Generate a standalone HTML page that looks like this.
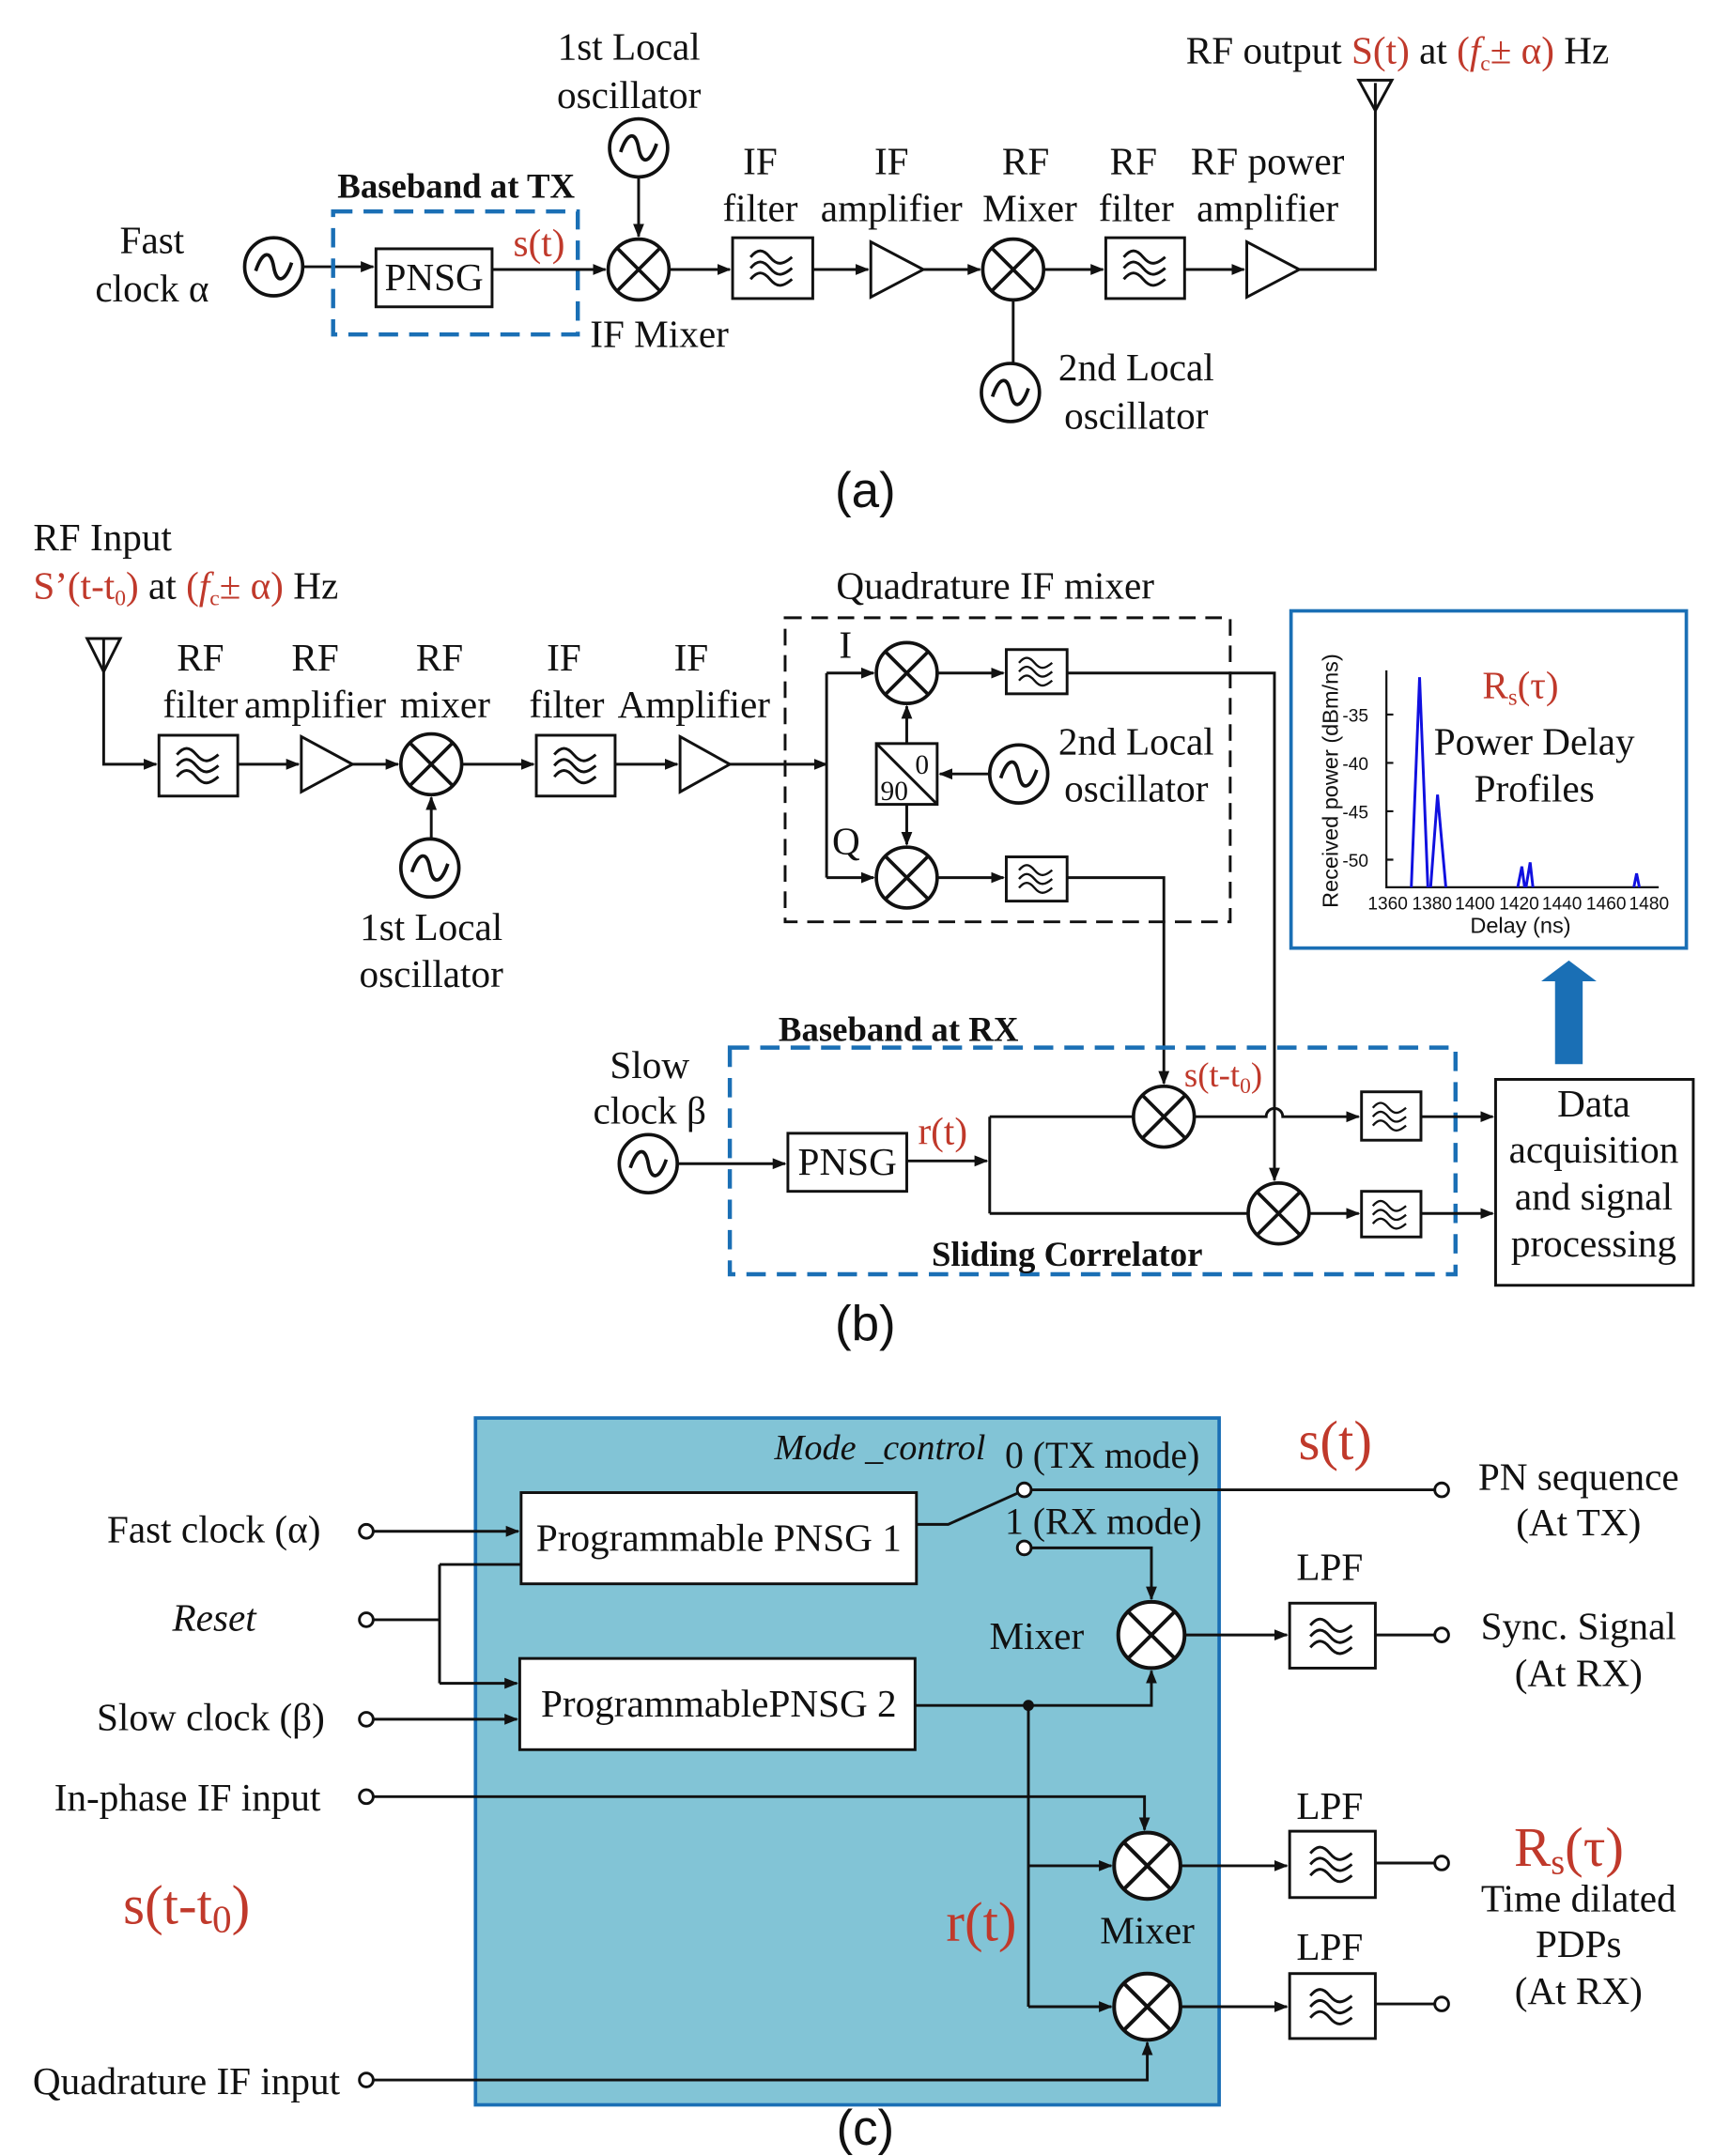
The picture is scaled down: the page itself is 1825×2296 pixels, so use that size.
<!DOCTYPE html>
<html><head><meta charset="utf-8"><style>html,body{margin:0;padding:0;background:#fff}svg{display:block;font-family:"Liberation Serif",serif;font-size:28px}
text{fill:#111}
.s{font-family:"Liberation Sans",sans-serif}
text.r,tspan.r{fill:#c0392b}.b{font-weight:bold}
</style></head><body>
<svg width="1825" height="2296" viewBox="0 0 1240 1560" xmlns="http://www.w3.org/2000/svg">
<defs>
<marker id="a" markerWidth="10" markerHeight="10" refX="9" refY="5" orient="auto" markerUnits="userSpaceOnUse"><path d="M0,1 L10,5 L0,9 z" fill="#111"/></marker>
<g id="mx"><circle r="22" fill="#fff" stroke="#111" stroke-width="2.5"/><path d="M-15.5,-15.5 L15.5,15.5 M15.5,-15.5 L-15.5,15.5" stroke="#111" stroke-width="2.5"/></g>
<g id="os"><circle r="21" fill="#fff" stroke="#111" stroke-width="2.5"/><path d="M-13,3 C-8,-12 -2,-12 0,0 C2,12 8,12 13,-3" fill="none" stroke="#111" stroke-width="2.5"/></g>
<g id="fw"><path d="M-16,-8 c5,-6 9,-6 14,0 c5,6 9,6 16,0 M-16,0 c5,-6 9,-6 14,0 c5,6 9,6 16,0 M-16,8 c5,-6 9,-6 14,0 c5,6 9,6 16,0" fill="none" stroke="#111" stroke-width="2"/></g>
</defs>
<g stroke="#111" stroke-width="2" fill="none">
<!-- (a) -->
<line x1="220" y1="193" x2="270" y2="193" marker-end="url(#a)"/>
<rect x="272" y="180" width="84" height="42" fill="#fff"/>
<line x1="356" y1="195" x2="438" y2="195" marker-end="url(#a)"/>
<line x1="462" y1="127" x2="462" y2="171" marker-end="url(#a)"/>
<line x1="484" y1="195" x2="528" y2="195" marker-end="url(#a)"/>
<rect x="530" y="172" width="58" height="44"/>
<line x1="588" y1="195" x2="628" y2="195" marker-end="url(#a)"/>
<path d="M630,175 L668,195 L630,215 z"/>
<line x1="668" y1="195" x2="709" y2="195" marker-end="url(#a)"/>
<line x1="733" y1="217" x2="733" y2="262"/>
<line x1="755" y1="195" x2="798" y2="195" marker-end="url(#a)"/>
<rect x="800" y="172" width="57" height="44"/>
<line x1="857" y1="195" x2="900" y2="195" marker-end="url(#a)"/>
<path d="M902,175 L940,195 L902,215 z"/>
<path d="M940,195 L995,195 L995,60"/>
<path d="M983,58 L1007,58 L995,80 z"/>
<rect x="241" y="153" width="177" height="89" stroke="#1a6fb5" stroke-width="3" stroke-dasharray="14,8"/>
<!-- (b) -->
<path d="M63,462 L87,462 L75,486 z"/>
<path d="M75,462 L75,553 L113,553" marker-end="url(#a)"/>
<rect x="115" y="532" width="57" height="44"/>
<line x1="172" y1="553" x2="216" y2="553" marker-end="url(#a)"/>
<path d="M218,533 L255,553 L218,573 z"/>
<line x1="255" y1="553" x2="288" y2="553" marker-end="url(#a)"/>
<line x1="312" y1="606" x2="312" y2="577" marker-end="url(#a)"/>
<line x1="334" y1="553" x2="386" y2="553" marker-end="url(#a)"/>
<rect x="388" y="532" width="57" height="44"/>
<line x1="445" y1="553" x2="490" y2="553" marker-end="url(#a)"/>
<path d="M492,533 L528,553 L492,573 z"/>
<line x1="528" y1="553" x2="598" y2="553" marker-end="url(#a)"/>
<path d="M598,487 L598,635"/>
<line x1="598" y1="487" x2="632" y2="487" marker-end="url(#a)"/>
<line x1="598" y1="635" x2="632" y2="635" marker-end="url(#a)"/>
<rect x="568" y="447" width="322" height="220" stroke-dasharray="12,7"/>
<rect x="634" y="538" width="44" height="44"/>
<line x1="634" y1="538" x2="678" y2="582"/>
<line x1="656" y1="538" x2="656" y2="511" marker-end="url(#a)"/>
<line x1="656" y1="582" x2="656" y2="611" marker-end="url(#a)"/>
<line x1="716" y1="560" x2="680" y2="560" marker-end="url(#a)"/>
<line x1="678" y1="487" x2="726" y2="487" marker-end="url(#a)"/>
<line x1="678" y1="635" x2="726" y2="635" marker-end="url(#a)"/>
<rect x="728" y="470" width="44" height="32"/>
<rect x="728" y="620" width="44" height="32"/>
<path d="M772,487 L922,487 L922,854" marker-end="url(#a)"/>
<path d="M772,635 L842,635 L842,784" marker-end="url(#a)"/>
<rect x="528" y="758" width="525" height="164" stroke="#1a6fb5" stroke-width="3" stroke-dasharray="14,8"/>
<line x1="490" y1="842" x2="568" y2="842" marker-end="url(#a)"/>
<rect x="570" y="820" width="86" height="42" fill="#fff"/>
<line x1="656" y1="840" x2="714" y2="840" marker-end="url(#a)"/>
<path d="M716,808 L716,878 M716,808 L820,808 M716,878 L903,878"/>
<path d="M864,808 L916,808 A6,6 0 0 1 928,808 L983,808" marker-end="url(#a)"/>
<line x1="947" y1="878" x2="983" y2="878" marker-end="url(#a)"/>
<rect x="985" y="790" width="43" height="35"/>
<rect x="985" y="862" width="43" height="33"/>
<line x1="1028" y1="808" x2="1080" y2="808" marker-end="url(#a)"/>
<line x1="1028" y1="878" x2="1080" y2="878" marker-end="url(#a)"/>
<rect x="1082" y="781" width="143" height="149"/>
<rect x="934" y="442" width="286" height="244" stroke="#1a6fb5" stroke-width="2.5"/>
<!-- plot -->
<path d="M1003,485 L1003,642 L1200,642" stroke-width="1.5"/>
<path d="M1003,517 h5 M1003,552 h5 M1003,587 h5 M1003,622 h5" stroke-width="1.5"/>
<path d="M1021,642 L1027,490 L1033,642 M1035,642 L1040,575 L1046,642 M1098,642 L1101,627 L1103,642 M1104,642 L1107,624 L1109,642 M1182,642 L1184,632 L1186,642" stroke="#1010e0" stroke-width="2"/>
<!-- (c) -->
<rect x="344" y="1026" width="538" height="497" fill="#82c4d6" stroke="#1a6fb5" stroke-width="2.5"/>
<rect x="377" y="1080" width="286" height="66" fill="#fff"/>
<rect x="376" y="1200" width="286" height="66" fill="#fff"/>
<line x1="270" y1="1108" x2="375" y2="1108" marker-end="url(#a)"/>
<path d="M270,1172 L318,1172 M318,1132 L318,1218 M318,1132 L377,1132" />
<line x1="318" y1="1218" x2="374" y2="1218" marker-end="url(#a)"/>
<line x1="270" y1="1244" x2="374" y2="1244" marker-end="url(#a)"/>
<path d="M663,1103 L686,1103 L737,1080"/>
<line x1="745" y1="1078" x2="1038" y2="1078"/>
<path d="M745,1120 L833,1120 L833,1157" marker-end="url(#a)"/>
<path d="M662,1234 L833,1234 L833,1209" marker-end="url(#a)"/>
<path d="M744,1234 L744,1452"/>
<line x1="744" y1="1350" x2="804" y2="1350" marker-end="url(#a)"/>
<line x1="744" y1="1452" x2="804" y2="1452" marker-end="url(#a)"/>
<path d="M270,1300 L828,1300 L828,1324" marker-end="url(#a)"/>
<path d="M270,1505 L830,1505 L830,1478" marker-end="url(#a)"/>
<line x1="857" y1="1183" x2="931" y2="1183" marker-end="url(#a)"/>
<line x1="854" y1="1350" x2="931" y2="1350" marker-end="url(#a)"/>
<line x1="854" y1="1452" x2="931" y2="1452" marker-end="url(#a)"/>
<rect x="933" y="1160" width="62" height="47" fill="#fff"/>
<rect x="933" y="1325" width="62" height="48" fill="#fff"/>
<rect x="933" y="1428" width="62" height="47" fill="#fff"/>
<path d="M995,1183 L1038,1183 M995,1348 L1038,1348 M995,1450 L1038,1450"/>
<g fill="#fff">
<circle cx="265" cy="1108" r="5"/><circle cx="265" cy="1172" r="5"/><circle cx="265" cy="1244" r="5"/><circle cx="265" cy="1300" r="5"/><circle cx="265" cy="1505" r="5"/>
<circle cx="741" cy="1078" r="5"/><circle cx="741" cy="1120" r="5"/>
<circle cx="1043" cy="1078" r="5"/><circle cx="1043" cy="1183" r="5"/><circle cx="1043" cy="1348" r="5"/><circle cx="1043" cy="1450" r="5"/>
</g>
</g>
<circle cx="744" cy="1234" r="4" fill="#111"/>
<path d="M1125,770 L1125,710 L1115,710 L1135,695 L1155,710 L1145,710 L1145,770 z" fill="#1a6fb5"/>
<use href="#os" x="198" y="193"/><use href="#os" x="462" y="107"/><use href="#os" x="731" y="284"/>
<use href="#os" x="311" y="628"/><use href="#os" x="737" y="560"/><use href="#os" x="469" y="842"/>
<use href="#mx" x="462" y="195"/><use href="#mx" x="733" y="195"/><use href="#mx" x="312" y="553"/>
<use href="#mx" x="656" y="487"/><use href="#mx" x="656" y="635"/><use href="#mx" x="842" y="808"/><use href="#mx" x="925" y="878"/>
<g transform="translate(833,1183) scale(1.09)"><use href="#mx"/></g>
<g transform="translate(830,1350) scale(1.09)"><use href="#mx"/></g>
<g transform="translate(830,1452) scale(1.09)"><use href="#mx"/></g>
<use href="#fw" x="559" y="194"/><use href="#fw" x="829" y="194"/><use href="#fw" x="144" y="554"/><use href="#fw" x="417" y="554"/>
<g transform="translate(750,486) scale(0.8)"><use href="#fw"/></g><g transform="translate(750,636) scale(0.8)"><use href="#fw"/></g>
<g transform="translate(1006,808) scale(0.8)"><use href="#fw"/></g><g transform="translate(1006,879) scale(0.8)"><use href="#fw"/></g>
<use href="#fw" x="964" y="1184"/><use href="#fw" x="964" y="1349"/><use href="#fw" x="964" y="1452"/>
<g text-anchor="middle">
<text x="110" y="183">Fast</text><text x="110" y="218">clock α</text>
<text x="314" y="210">PNSG</text>
<text x="330" y="143" class="b" font-size="25">Baseband at TX</text>
<text x="390" y="185" class="r">s(t)</text>
<text x="455" y="43">1st Local</text><text x="455" y="78">oscillator</text>
<text x="477" y="251">IF Mixer</text>
<text x="550" y="126">IF</text><text x="550" y="160">filter</text>
<text x="645" y="126">IF</text><text x="645" y="160">amplifier</text>
<text x="742" y="126">RF</text><text x="745" y="160">Mixer</text>
<text x="820" y="126">RF</text><text x="822" y="160">filter</text>
<text x="917" y="126">RF power</text><text x="917" y="160">amplifier</text>
<text x="822" y="275">2nd Local</text><text x="822" y="310">oscillator</text>
<text x="626" y="367" class="s" font-size="36">(a)</text>
<text x="145" y="485">RF</text><text x="145" y="519">filter</text>
<text x="228" y="485">RF</text><text x="228" y="519">amplifier</text>
<text x="318" y="485">RF</text><text x="322" y="519">mixer</text>
<text x="408" y="485">IF</text><text x="410" y="519">filter</text>
<text x="500" y="485">IF</text><text x="502" y="519">Amplifier</text>
<text x="312" y="680">1st Local</text><text x="312" y="714">oscillator</text>
<text x="720" y="433">Quadrature IF mixer</text>
<text x="822" y="546">2nd Local</text><text x="822" y="580">oscillator</text>
<text x="667" y="560" font-size="20">0</text><text x="647" y="579" font-size="20">90</text>
<text x="650" y="753" class="b" font-size="25">Baseband at RX</text>
<text x="772" y="916" class="b" font-size="25">Sliding Correlator</text>
<text x="470" y="780">Slow</text><text x="470" y="813">clock β</text>
<text x="613" y="850">PNSG</text>
<text x="682" y="828" class="r">r(t)</text>
<text x="885" y="786" class="r" font-size="25">s(t-t<tspan font-size="16" dy="5">0</tspan><tspan dy="-5">)</tspan></text>
<text x="1153" y="808">Data</text><text x="1153" y="841">acquisition</text><text x="1153" y="875">and signal</text><text x="1153" y="909">processing</text>
<text x="1100" y="505" class="r">R<tspan font-size="17" dy="5">s</tspan><tspan dy="-5">(τ)</tspan></text>
<text x="1110" y="546">Power Delay</text><text x="1110" y="580">Profiles</text>
<text x="990" y="522" text-anchor="end" class="s" font-size="13">-35</text><text x="990" y="557" text-anchor="end" class="s" font-size="13">-40</text><text x="990" y="592" text-anchor="end" class="s" font-size="13">-45</text><text x="990" y="627" text-anchor="end" class="s" font-size="13">-50</text>
<text x="1004" y="658" class="s" font-size="13">1360</text><text x="1036" y="658" class="s" font-size="13">1380</text><text x="1067" y="658" class="s" font-size="13">1400</text><text x="1099" y="658" class="s" font-size="13">1420</text><text x="1130" y="658" class="s" font-size="13">1440</text><text x="1162" y="658" class="s" font-size="13">1460</text><text x="1193" y="658" class="s" font-size="13">1480</text>
<text x="1100" y="675" class="s" font-size="16">Delay (ns)</text>
<text transform="translate(968,565) rotate(-90)" class="s" font-size="16">Received power (dBm/ns)</text>
<text x="626" y="970" class="s" font-size="36">(b)</text>
<text x="626" y="1552" class="s" font-size="36">(c)</text>
<text x="520" y="1122">Programmable PNSG 1</text>
<text x="520" y="1242">ProgrammablePNSG 2</text>
<text x="155" y="1180" font-style="italic">Reset</text>
<text x="750" y="1193">Mixer</text><text x="830" y="1406">Mixer</text>
<text x="962" y="1143">LPF</text><text x="962" y="1316">LPF</text><text x="962" y="1418">LPF</text>
<text x="966" y="1056" class="r" font-size="40">s(t)</text>
<text x="710" y="1404" class="r" font-size="40">r(t)</text>
<text x="135" y="1392" class="r" font-size="40">s(t-t<tspan font-size="28" dy="6">0</tspan><tspan dy="-6">)</tspan></text>
<text x="1135" y="1350" class="r" font-size="40">R<tspan font-size="26" dy="6">s</tspan><tspan dy="-6">(τ)</tspan></text>
<text x="1142" y="1078">PN sequence</text><text x="1142" y="1111">(At TX)</text>
<text x="1142" y="1186">Sync. Signal</text><text x="1142" y="1220">(At RX)</text>
<text x="1142" y="1383">Time dilated</text><text x="1142" y="1416">PDPs</text><text x="1142" y="1450">(At RX)</text>
</g>
<text x="858" y="46">RF output <tspan class="r">S(t)</tspan> at <tspan class="r">(<tspan font-style="italic">f</tspan><tspan font-size="16" dy="5">c</tspan><tspan dy="-5">± α)</tspan></tspan> Hz</text>
<text x="24" y="398">RF Input</text>
<text x="24" y="433"><tspan class="r">S’(t-t<tspan font-size="16" dy="5">0</tspan><tspan dy="-5">)</tspan></tspan> at <tspan class="r">(<tspan font-style="italic">f</tspan><tspan font-size="16" dy="5">c</tspan><tspan dy="-5">± α)</tspan></tspan> Hz</text>
<text x="607" y="476">I</text><text x="602" y="618">Q</text>
<text x="232" y="1116" text-anchor="end">Fast clock (α)</text>
<text x="235" y="1252" text-anchor="end">Slow clock (β)</text>
<text x="232" y="1310" text-anchor="end">In-phase IF input</text>
<text x="246" y="1515" text-anchor="end">Quadrature IF input</text>
<text x="713" y="1056" text-anchor="end" font-style="italic" font-size="26">Mode _control</text>
<text x="727" y="1062" font-size="27">0 (TX mode)</text>
<text x="727" y="1110" font-size="27">1 (RX mode)</text>
</svg>
</body></html>
